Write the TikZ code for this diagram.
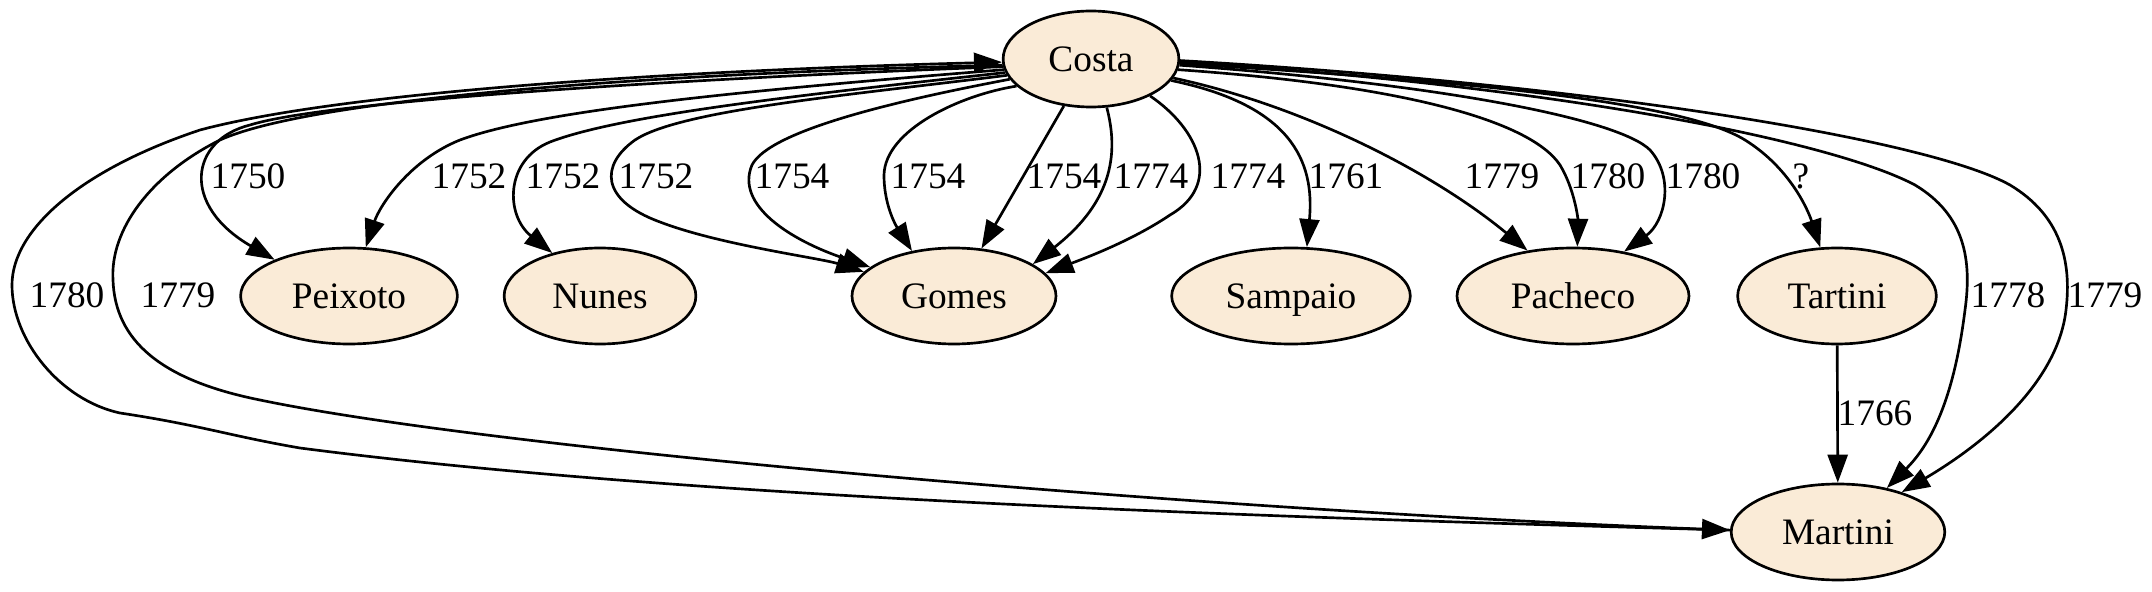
\documentclass[tikz,border=0pt]{standalone}
\usepackage{fontspec}
\setmainfont{Liberation Serif}
\usetikzlibrary{shapes.geometric,arrows.meta}
\definecolor{nodefill}{HTML}{FAEBD7}
\begin{document}
\begin{tikzpicture}[x=0.375pt,y=-0.375pt,
  every node/.style={font=\fontsize{14pt}{16pt}\selectfont},
  person/.style={ellipse,draw,fill=nodefill,line width=1pt,inner sep=0pt,minimum height=36pt,text height=9.3pt,text depth=0pt},
  lbl/.style={inner sep=0pt,text height=9.3pt,text depth=0pt},
  conn/.style={draw,line width=1pt,-{Triangle[length=10.5pt,width=7.5pt]}}
]
\useasboundingbox (0,0) rectangle (2152,592);
\fill[white] (0,0) rectangle (2152,592);

% nodes
\node[person,minimum width=65.9pt] (C) at (1091,59) {Costa};
\node[person,minimum width=81.3pt] (P) at (349,296) {Peixoto};
\node[person,minimum width=71.9pt] (N) at (600,296) {Nunes};
\node[person,minimum width=76.5pt] (G) at (954,296) {Gomes};
\node[person,minimum width=89.5pt] (S) at (1291,296) {Sampaio};
\node[person,minimum width=87pt] (Pa) at (1573,296) {Pacheco};
\node[person,minimum width=74.5pt] (T) at (1837,296) {Tartini};
\node[person,minimum width=80.1pt] (M) at (1838,532) {Martini};

% edges
\draw[conn] (C.185) .. controls (700,78) and (330,100) .. (250,125) .. controls (190,140) and (180,205) .. (P.154);
\draw[conn] (C.187) .. controls (750,90) and (540,110) .. (460,140) .. controls (410,160) and (380,205) .. (P.71);
\draw[conn] (C.189) .. controls (800,95) and (620,115) .. (550,142) .. controls (505,160) and (505,215) .. (N.138);
\draw[conn] (C.191) .. controls (850,95) and (680,110) .. (635,140) .. controls (600,165) and (600,200) .. (660,222) .. controls (720,245) and (820,258) .. (G.165);
\draw[conn] (C.194) .. controls (900,100) and (770,130) .. (752,165) .. controls (735,205) and (790,240) .. (G.161);
\draw[conn] (C.200) .. controls (960,95) and (885,130) .. (884,175) .. controls (884,210) and (900,232) .. (G.133);
\draw[conn] (C) -- (G);
\draw[conn] (C.288) .. controls (1118,150) and (1115,200) .. (G.22);
\draw[conn] (C.328) .. controls (1200,130) and (1222,185) .. (1170,215) .. controls (1130,242) and (1080,260) .. (G.14);
\draw[conn] (C.345) .. controls (1290,105) and (1315,160) .. (S.72);
\draw[conn] (C.347) .. controls (1300,105) and (1430,170) .. (Pa.135);
\draw[conn] (C.353) .. controls (1400,85) and (1530,120) .. (1560,165) .. controls (1575,190) and (1578,220) .. (Pa.85);
\draw[conn] (C.356) .. controls (1450,85) and (1620,120) .. (1650,150) .. controls (1675,178) and (1665,222) .. (Pa.41);
\draw[conn] (C.357) .. controls (1450,80) and (1680,100) .. (1745,140) .. controls (1790,168) and (1808,210) .. (T.109);
\draw[conn] (C.358) .. controls (1550,85) and (1830,140) .. (1915,185) .. controls (1965,215) and (1972,260) .. (1965,310) .. controls (1955,390) and (1935,440) .. (M.42);
\draw[conn] (C.359) .. controls (1600,85) and (1930,140) .. (2010,185) .. controls (2060,215) and (2072,260) .. (2066,310) .. controls (2058,380) and (1990,440) .. (M.32);
\draw[conn] (M.179) .. controls (1300,518) and (700,500) .. (300,448) .. controls (230,436) and (200,425) .. (120,413) .. controls (60,400) and (12,340) .. (12,285) .. controls (12,230) and (80,170) .. (200,130) .. controls (350,90) and (700,70) .. (C.182);
\draw[conn] (C.184) .. controls (700,72) and (320,95) .. (220,140) .. controls (150,175) and (110,230) .. (113,280) .. controls (115,340) and (160,380) .. (260,400) .. controls (500,450) and (1200,510) .. (M.179);
\draw[conn] (T) -- (M);

% edge labels
\node[lbl] (l1) at (248,176) {1750};
\node[lbl] (l2) at (469,176) {1752};
\node[lbl] (l3) at (563,176) {1752};
\node[lbl] (l4) at (656,176) {1752};
\node[lbl] (l5) at (792,176) {1754};
\node[lbl] (l6) at (928,176) {1754};
\node[lbl] (l7) at (1064,176) {1754};
\node[lbl] (l8) at (1151,176) {1774};
\node[lbl] (l9) at (1248,176) {1774};
\node[lbl] (l10) at (1346,176) {1761};
\node[lbl] (l11) at (1502,176) {1779};
\node[lbl] (l12) at (1608,176) {1780};
\node[lbl] (l13) at (1703,176) {1780};
\node[lbl] (l14) at (1801,176) {?};
\node[lbl] (l15) at (2008,295) {1778};
\node[lbl] (l16) at (2105,295) {1779};
\node[lbl] (l17) at (67,295) {1780};
\node[lbl] (l18) at (178,295) {1779};
\node[lbl] (l19) at (1875,413) {1766};
\end{tikzpicture}
\end{document}
